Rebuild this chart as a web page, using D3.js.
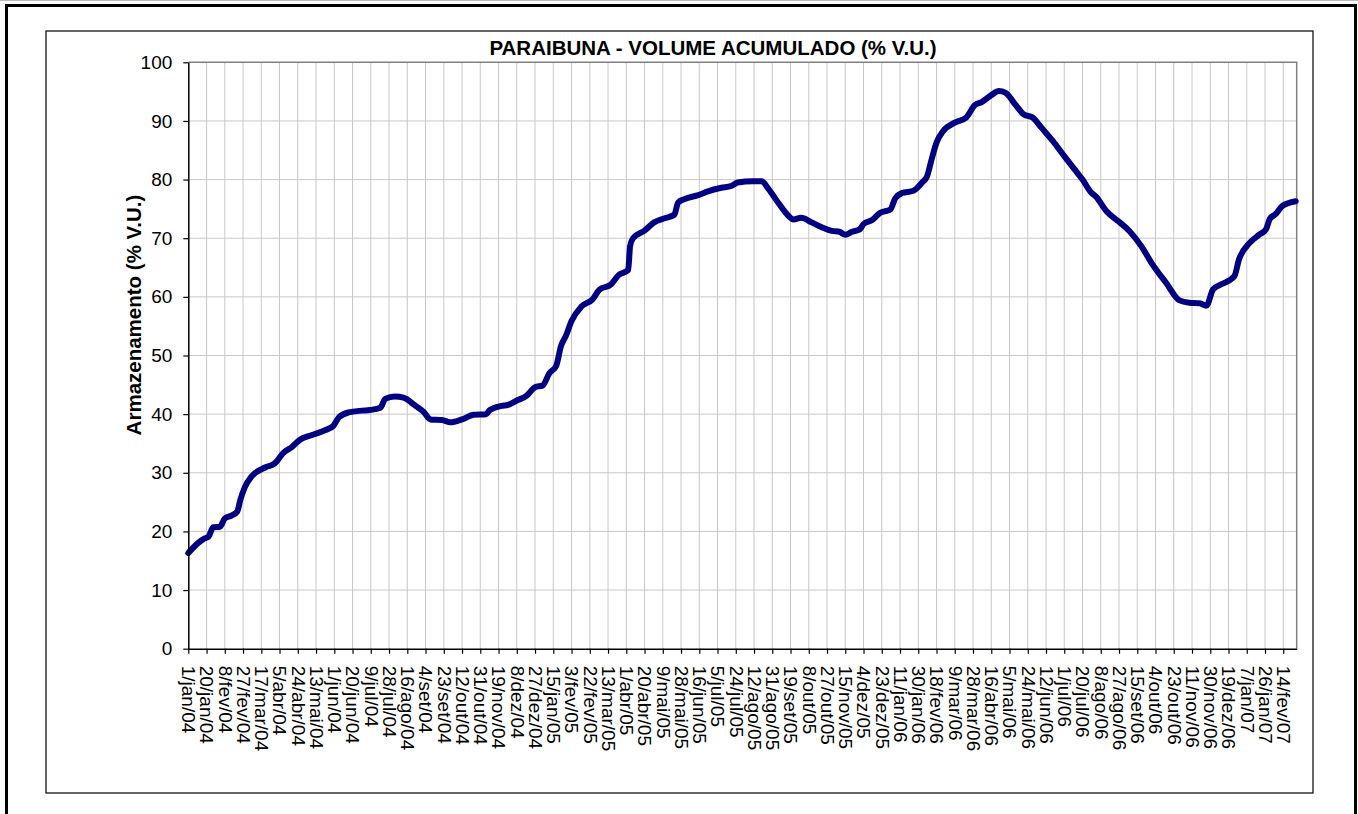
<!DOCTYPE html>
<html>
<head>
<meta charset="utf-8">
<script src="https://cdn.jsdelivr.net/npm/d3@7"></script>
<style>
  body { margin: 0; background: #fff; }
  svg { display: block; }
  text { font-family: "Liberation Sans", Arial, sans-serif; fill: #000; }
</style>
</head>
<body>
<svg id="chart" width="1358" height="814"></svg>
<script>
// readings of the curve, % V.U.
var dates = ["2004-01-01","2004-01-11","2004-01-18","2004-01-22","2004-01-27","2004-02-03","2004-02-08","2004-02-15",
  "2004-02-21","2004-02-24","2004-02-29","2004-03-07","2004-03-21","2004-03-31","2004-04-09","2004-04-18","2004-04-26",
  "2004-05-08","2004-05-23","2004-05-31","2004-06-06","2004-06-16","2004-06-30","2004-07-08","2004-07-19","2004-07-24",
  "2004-08-03","2004-08-12","2004-08-24","2004-09-02","2004-09-09","2004-09-21","2004-09-30","2004-10-12","2004-10-24",
  "2004-11-06","2004-11-10","2004-11-22","2004-11-29","2004-12-09","2004-12-18","2004-12-27","2005-01-04","2005-01-11",
  "2005-01-18","2005-01-23","2005-01-28","2005-02-03","2005-02-13","2005-02-25","2005-03-04","2005-03-16","2005-03-24",
  "2005-04-03","2005-04-05","2005-04-08","2005-04-20","2005-04-30","2005-05-11","2005-05-21","2005-05-25","2005-06-01",
  "2005-06-14","2005-06-25","2005-07-09","2005-07-19","2005-07-26","2005-08-11","2005-08-20","2005-08-27","2005-09-06",
  "2005-09-17","2005-09-22","2005-09-30","2005-10-11","2005-10-21","2005-11-01","2005-11-09","2005-11-15","2005-11-22",
  "2005-11-30","2005-12-04","2005-12-13","2005-12-21","2006-01-01","2006-01-06","2006-01-13","2006-01-25","2006-02-03",
  "2006-02-08","2006-02-13","2006-02-18","2006-02-25","2006-03-09","2006-03-21","2006-03-30","2006-04-06","2006-04-16",
  "2006-04-24","2006-05-01","2006-05-11","2006-05-20","2006-05-29","2006-06-07","2006-06-19","2006-07-01","2006-07-12",
  "2006-07-20","2006-07-29","2006-08-03","2006-08-14","2006-08-27","2006-09-07","2006-09-19","2006-10-01","2006-10-15",
  "2006-10-29","2006-11-08","2006-11-19","2006-11-26","2006-12-03","2006-12-11","2006-12-25","2006-12-30","2007-01-10",
  "2007-01-20","2007-01-27","2007-01-31","2007-02-06","2007-02-13","2007-02-27"];
var volume = [16.3,18.0,18.8,19.1,20.7,20.8,22.2,22.7,
  23.4,25.3,27.6,29.4,30.9,31.6,33.4,34.4,35.6,
  36.4,37.3,38.0,39.5,40.3,40.6,40.7,41.1,42.6,
  43.0,42.8,41.5,40.4,39.1,39.0,38.6,39.1,39.9,
  40.0,40.7,41.4,41.6,42.4,43.1,44.6,44.9,47.0,
  48.2,51.6,53.3,55.9,58.3,59.6,61.2,62.1,63.7,
  64.6,68.7,70.0,71.3,72.7,73.4,74.0,76.1,76.7,
  77.3,78.0,78.6,78.9,79.5,79.7,79.7,78.4,76.1,
  73.8,73.2,73.5,72.7,71.9,71.25,71.1,70.6,71.1,
  71.5,72.4,73.1,74.3,74.9,76.8,77.7,78.1,79.5,
  80.5,83.5,86.3,88.3,89.7,90.6,92.7,93.2,94.4,
  95.1,94.8,92.8,91.1,90.6,88.9,86.6,84.0,81.7,
  80.0,77.8,77.1,74.6,72.8,71.2,68.7,65.5,62.4,
  59.4,59.0,58.9,58.5,61.3,62.1,63.5,66.4,69.2,
  70.6,71.5,73.3,74.1,75.5,76.3];

var yTicks = [0, 10, 20, 30, 40, 50, 60, 70, 80, 90, 100];
var monthNames = ["jan","fev","mar","abr","mai","jun","jul","ago","set","out","nov","dez"];
var firstTick = "2004-01-01", lastTick = "2007-02-14", tickStepDays = 19;
var axisEnd = "2007-02-28";

var titleText = "PARAIBUNA - VOLUME ACUMULADO (% V.U.)";
var yTitle = "Armazenamento (% V.U.)";

var parse = d3.utcParse("%Y-%m-%d");
var data = dates.map(function(d, i) { return { date: parse(d), v: volume[i] }; });

// plot area
var pLeft = 188.3, pRight = 1296.7, pTop = 62.3, pBottom = 648.7;

var x = d3.scaleUtc().domain([parse(firstTick), parse(axisEnd)]).range([pLeft, pRight]);
var y = d3.scaleLinear().domain([0, 100]).range([pBottom, pTop]);

var tickDates = [];
for (var t = parse(firstTick); t <= parse(lastTick); t = d3.utcDay.offset(t, tickStepDays)) tickDates.push(t);

function fmt(d) {
  return d.getUTCDate() + "/" + monthNames[d.getUTCMonth()] + "/" + String(d.getUTCFullYear()).slice(2);
}

var svg = d3.select("#chart");

// frames
svg.append("line").attr("x1", 0).attr("x2", 1358).attr("y1", 0.5).attr("y2", 0.5)
  .attr("stroke", "#bbb").attr("stroke-width", 1);
svg.append("path").attr("d", "M6.5,814V5.5H1355.5V814")
  .attr("fill", "none").attr("stroke", "#000").attr("stroke-width", 3);
svg.append("rect").attr("x", 46).attr("y", 31).attr("width", 1267).attr("height", 762)
  .attr("fill", "none").attr("stroke", "#000").attr("stroke-width", 1.2);

// grid
var grid = svg.append("g");
grid.selectAll("line.v").data(tickDates.slice(1)).enter().append("line")
  .attr("class", "v")
  .attr("x1", function(d) { return x(d); }).attr("x2", function(d) { return x(d); })
  .attr("y1", pTop).attr("y2", pBottom)
  .attr("stroke", "#c8c8c8").attr("stroke-width", 1);
grid.selectAll("line.h").data(yTicks.slice(1, -1)).enter().append("line")
  .attr("class", "h")
  .attr("x1", pLeft).attr("x2", pRight)
  .attr("y1", function(d) { return y(d); }).attr("y2", function(d) { return y(d); })
  .attr("stroke", "#c8c8c8").attr("stroke-width", 1);

svg.append("path").attr("d", "M" + pLeft + "," + pTop + "H" + pRight + "V" + pBottom)
  .attr("fill", "none").attr("stroke", "#808080").attr("stroke-width", 1.5);

// series
var line = d3.line().x(function(d) { return x(d.date); }).y(function(d) { return y(d.v); })
  .curve(d3.curveMonotoneX);
svg.append("path").datum(data).attr("d", line)
  .attr("fill", "none").attr("stroke", "#000080").attr("stroke-width", 6)
  .attr("stroke-linejoin", "round").attr("stroke-linecap", "round");

// axes
var yAxis = svg.append("g").attr("transform", "translate(" + pLeft + ",0)")
  .call(d3.axisLeft(y).tickValues(yTicks).tickSize(5).tickSizeOuter(0).tickPadding(11));
var xAxis = svg.append("g").attr("transform", "translate(0," + pBottom + ")")
  .call(d3.axisBottom(x).tickValues(tickDates).tickFormat(fmt).tickSize(5).tickSizeOuter(0));

[yAxis, xAxis].forEach(function(a) {
  a.select(".domain").attr("stroke", "#000").attr("stroke-width", 1.5);
  a.selectAll(".tick line").attr("stroke", "#000").attr("stroke-width", 1.2);
  a.selectAll("text").style("font-size", "19px").attr("fill", "#000")
    .style("font-family", "'Liberation Sans', Arial, sans-serif");
});
xAxis.selectAll(".tick text")
  .attr("transform", "rotate(90)").attr("text-anchor", "start")
  .attr("x", 17).attr("y", 0).attr("dy", "0.35em");

// titles
svg.append("text").attr("x", 713).attr("y", 55).attr("text-anchor", "middle")
  .style("font-size", "20.5px").style("font-weight", "bold").text(titleText);
svg.append("text").attr("transform", "translate(141,315) rotate(-90)").attr("text-anchor", "middle")
  .style("font-size", "20.5px").style("font-weight", "bold").text(yTitle);
</script>
</body>
</html>
